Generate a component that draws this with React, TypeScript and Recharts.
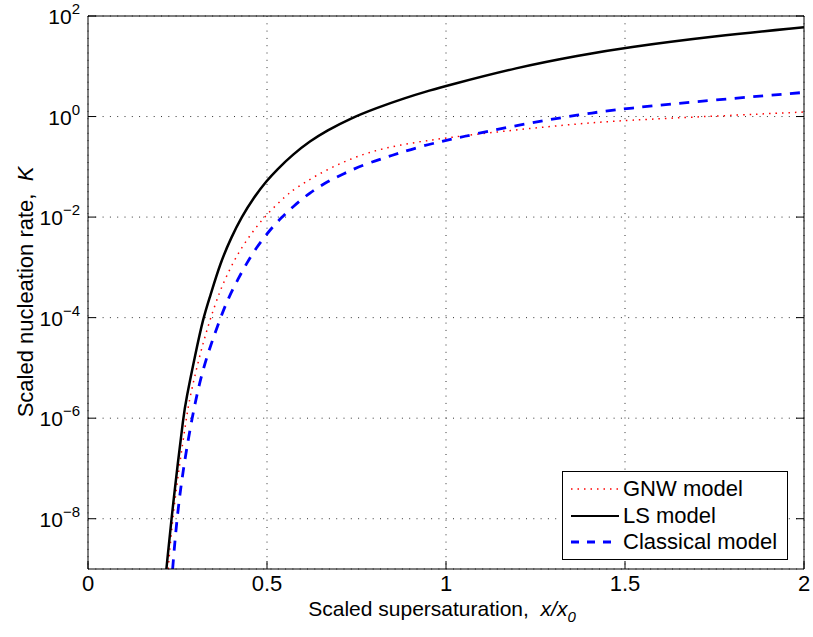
import React from 'react';
import { LineChart, Line, XAxis, YAxis, CartesianGrid, Legend } from 'recharts';

// ---- data ----
const xTicks = [0, 0.5, 1, 1.5, 2];
const yTicks = [1e-8, 1e-6, 1e-4, 1e-2, 1e0, 1e2];

const gnwX = [0.224, 0.236, 0.255, 0.275, 0.283, 0.31, 0.336, 0.369, 0.395, 0.423, 0.457, 0.494, 0.555, 0.573, 0.639, 0.713, 0.788, 0.872, 0.965, 1.039, 1.2, 1.374, 1.5, 1.75, 2.0];
const gnwK = [1e-9, 1e-8, 1.12e-7, 1e-6, 2.34e-6, 1.58e-5, 7.24e-5, 3.55e-4, 8.9e-4, 2.14e-3, 4.79e-3, 1.05e-2, 2.75e-2, 3.47e-2, 6.92e-2, 0.126, 0.2, 0.275, 0.347, 0.407, 0.55, 0.724, 0.841, 1.02, 1.23];

const lsX = [0.219, 0.233, 0.252, 0.266, 0.274, 0.3, 0.322, 0.341, 0.369, 0.401, 0.429, 0.462, 0.5, 0.527, 0.573, 0.62, 0.667, 0.732, 0.806, 0.881, 0.96, 1.0, 1.2, 1.374, 1.5, 1.75, 2.0];
const lsK = [1e-9, 1e-8, 1.48e-7, 1e-6, 2.34e-6, 1.9e-5, 1e-4, 2.63e-4, 1.2e-3, 4.07e-3, 1e-2, 2.4e-2, 5.37e-2, 8.7e-2, 0.178, 0.324, 0.525, 0.912, 1.48, 2.29, 3.39, 4.07, 9.55, 16.6, 23.4, 39.8, 59.6];

const classicalX = [0.2364, 0.248, 0.265, 0.29, 0.32, 0.37, 0.392, 0.42, 0.443, 0.469, 0.504, 0.541, 0.573, 0.62, 0.667, 0.713, 0.769, 0.825, 0.872, 0.927, 0.983, 1.034, 1.2, 1.374, 1.5, 1.75, 2.0];
const classicalK = [1e-9, 1e-8, 8.9e-8, 1e-6, 1e-5, 1e-4, 2.45e-4, 6.03e-4, 1.2e-3, 2.4e-3, 5.13e-3, 1e-2, 1.62e-2, 3.09e-2, 5.01e-2, 7.24e-2, 0.11, 0.148, 0.191, 0.251, 0.316, 0.38, 0.676, 1.1, 1.45, 2.14, 3.02];

const seriesNames = ['GNW model', 'LS model', 'Classical model'];

const toRows = (xs: number[], ks: number[]) => xs.map((x, i) => ({ x, k: ks[i] }));
const gnwData = toRows(gnwX, gnwK);
const lsData = toRows(lsX, lsK);
const classicalData = toRows(classicalX, classicalK);

// ---- styles ----
const FONT = '"Liberation Sans", Arial, Helvetica, sans-serif';
const FS = 22;
const styles = [
  { stroke: '#ff0000', width: 1.5, dash: '1.5 5' },
  { stroke: '#000000', width: 2.5, dash: undefined as string | undefined },
  { stroke: '#0000ff', width: 2.8, dash: '10 8.5' },
];

const fmtX = (v: number) => String(v);

const BottomTick = (props: any) => {
  const { x, y, payload } = props;
  return (
    <g>
      <line x1={x} x2={x} y1={y} y2={y - 8} stroke="#000" strokeWidth={1} />
      <text x={x} y={y + 22} textAnchor="middle" fontSize={FS} fontFamily={FONT} fill="#000">
        {fmtX(payload.value)}
      </text>
    </g>
  );
};

const TopTick = (props: any) => {
  const { x, y } = props;
  return <line x1={x} x2={x} y1={y} y2={y + 8} stroke="#000" strokeWidth={1} />;
};

const LeftTick = (props: any) => {
  const { x, y, payload } = props;
  const e = Math.round(Math.log10(payload.value));
  const es = e < 0 ? '\u2212' + String(-e) : String(e);
  return (
    <g>
      <line x1={x} x2={x + 8} y1={y} y2={y} stroke="#000" strokeWidth={1} />
      <text x={x - 8} y={y + 8} textAnchor="end" fontSize={21} fontFamily={FONT} fill="#000">
        <tspan>10</tspan>
        <tspan fontSize={15} dy={-10}>{es}</tspan>
      </text>
    </g>
  );
};

const RightTick = (props: any) => {
  const { x, y } = props;
  return <line x1={x} x2={x - 8} y1={y} y2={y} stroke="#000" strokeWidth={1} />;
};

const XLabel = () => (
  <text x={442} y={616} textAnchor="middle" fontSize={21} fontFamily={FONT} fill="#000" style={{ whiteSpace: 'pre' }}>
    {'Scaled supersaturation,  '}
    <tspan fontStyle="italic">x/x</tspan>
    <tspan fontStyle="italic" fontSize={15} dy={6}>0</tspan>
  </text>
);

const YLabel = () => (
  <text
    x={33}
    y={292}
    transform="rotate(-90, 33, 292)"
    textAnchor="middle"
    fontSize={FS}
    fontFamily={FONT}
    fill="#000"
    style={{ whiteSpace: 'pre' }}
  >
    {'Scaled nucleation rate,  '}
    <tspan fontStyle="italic">K</tspan>
  </text>
);

const LegendBox = () => (
  <div
    style={{
      width: 226,
      height: 89,
      border: '1px solid #000',
      background: '#fff',
      boxSizing: 'border-box',
      fontFamily: FONT,
      fontSize: FS,
      position: 'relative',
      color: '#000',
    }}
  >
    {seriesNames.map((name, i) => (
      <div
        key={name}
        style={{
          position: 'absolute',
          left: 8,
          top: 4 + i * 26.5,
          height: 26,
          display: 'flex',
          alignItems: 'center',
          whiteSpace: 'nowrap',
        }}
      >
        <svg width={48} height={10} style={{ display: 'block' }}>
          <line
            x1={0}
            x2={48}
            y1={5}
            y2={5}
            stroke={styles[i].stroke}
            strokeWidth={i === 1 ? 2 : styles[i].width}
            strokeDasharray={i === 2 ? '8 8' : styles[i].dash}
          />
        </svg>
        <span style={{ marginLeft: 4, lineHeight: '26px' }}>{name}</span>
      </div>
    ))}
  </div>
);

export default function App() {
  return (
    <div style={{ position: 'absolute', left: 0, top: 0, width: 813, height: 637, background: '#fff' }}>
      <LineChart width={813} height={637} margin={{ top: 0, right: 0, bottom: 0, left: 0 }}>
        <CartesianGrid stroke="#333" strokeDasharray="1 6.3" strokeWidth={1} />
        <XAxis
          xAxisId={0}
          dataKey="x"
          type="number"
          domain={[0, 2]}
          ticks={xTicks}
          interval={0}
          height={68}
          tickSize={0}
          tickMargin={0}
          tickLine={false}
          axisLine={{ stroke: '#000', strokeWidth: 1 }}
          tick={<BottomTick />}
          allowDataOverflow
          label={<XLabel />}
        />
        <XAxis
          xAxisId="top"
          orientation="top"
          type="number"
          domain={[0, 2]}
          ticks={xTicks}
          interval={0}
          height={16}
          tickSize={0}
          tickMargin={0}
          tickLine={false}
          axisLine={{ stroke: '#000', strokeWidth: 1 }}
          tick={<TopTick />}
          allowDataOverflow
        />
        <YAxis
          yAxisId={0}
          type="number"
          scale="log"
          domain={[1e-9, 100]}
          ticks={yTicks}
          interval={0}
          width={88}
          tickSize={0}
          tickMargin={0}
          tickLine={false}
          axisLine={{ stroke: '#000', strokeWidth: 1 }}
          tick={<LeftTick />}
          allowDataOverflow
          label={<YLabel />}
        />
        <YAxis
          yAxisId="right"
          orientation="right"
          type="number"
          scale="log"
          domain={[1e-9, 100]}
          ticks={yTicks}
          interval={0}
          width={9}
          tickSize={0}
          tickMargin={0}
          tickLine={false}
          axisLine={{ stroke: '#000', strokeWidth: 1 }}
          tick={<RightTick />}
          allowDataOverflow
        />
        <Line
          data={gnwData}
          dataKey="k"
          name={seriesNames[0]}
          type="basis"
          stroke={styles[0].stroke}
          strokeWidth={styles[0].width}
          strokeDasharray={styles[0].dash}
          dot={false}
          activeDot={false}
          isAnimationActive={false}
        />
        <Line
          data={lsData}
          dataKey="k"
          name={seriesNames[1]}
          type="basis"
          stroke={styles[1].stroke}
          strokeWidth={styles[1].width}
          dot={false}
          activeDot={false}
          isAnimationActive={false}
        />
        <Line
          data={classicalData}
          dataKey="k"
          name={seriesNames[2]}
          type="basis"
          stroke={styles[2].stroke}
          strokeWidth={styles[2].width}
          strokeDasharray={styles[2].dash}
          dot={false}
          activeDot={false}
          isAnimationActive={false}
        />
        <Legend
          layout="horizontal"
          verticalAlign="middle"
          align="center"
          content={<LegendBox />}
          wrapperStyle={{ position: 'absolute', left: 562, top: 471, width: 226, height: 89 }}
        />
      </LineChart>
    </div>
  );
}
